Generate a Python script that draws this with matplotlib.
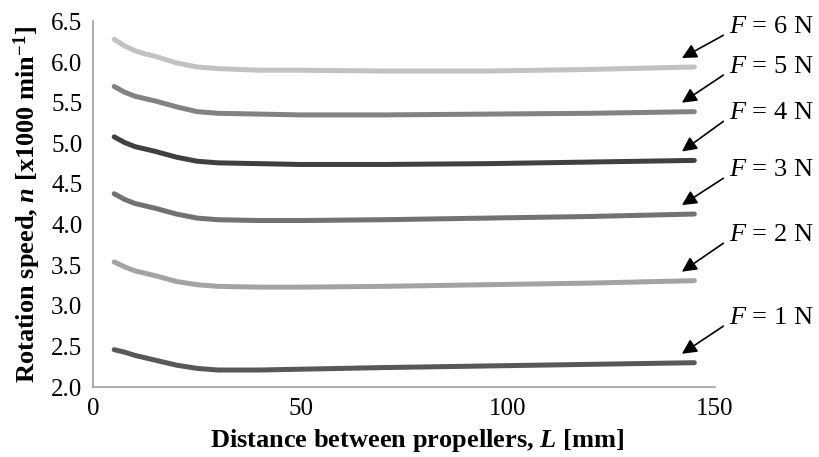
import matplotlib
matplotlib.use("Agg")
import matplotlib.pyplot as plt

plt.rcParams['font.family'] = ['Liberation Serif', 'DejaVu Serif']
plt.rcParams['mathtext.fontset'] = 'custom'
plt.rcParams['mathtext.rm'] = 'Liberation Serif'
plt.rcParams['mathtext.it'] = 'Liberation Serif:italic'
plt.rcParams['mathtext.bf'] = 'Liberation Serif:bold'
plt.rcParams['mathtext.bfit'] = 'Liberation Serif:italic:bold'

# Distance between propellers L [mm]
distance = [5, 7.5, 10, 12.5, 15, 20, 25, 30, 40, 50, 70, 95, 120, 145]

# Rotation speed n [x1000 min^-1] for each thrust force
speed_1N = [2.46, 2.43, 2.39, 2.36, 2.33, 2.27, 2.23, 2.21, 2.21, 2.22, 2.24, 2.26, 2.28, 2.30]
speed_2N = [3.54, 3.48, 3.43, 3.40, 3.37, 3.30, 3.26, 3.24, 3.23, 3.23, 3.24, 3.26, 3.28, 3.31]
speed_3N = [4.38, 4.31, 4.26, 4.23, 4.20, 4.13, 4.08, 4.06, 4.05, 4.05, 4.06, 4.08, 4.10, 4.13]
speed_4N = [5.08, 5.01, 4.96, 4.93, 4.90, 4.83, 4.78, 4.76, 4.75, 4.74, 4.74, 4.75, 4.77, 4.79]
speed_5N = [5.70, 5.63, 5.58, 5.55, 5.52, 5.45, 5.39, 5.37, 5.36, 5.35, 5.35, 5.36, 5.37, 5.39]
speed_6N = [6.28, 6.20, 6.14, 6.10, 6.07, 5.99, 5.94, 5.92, 5.90, 5.90, 5.89, 5.89, 5.91, 5.94]

forces = [1, 2, 3, 4, 5, 6]
series = [speed_1N, speed_2N, speed_3N, speed_4N, speed_5N, speed_6N]
colors = ['#585858', '#a3a3a3', '#727272', '#404040', '#828282', '#c2c2c2']
label_y = [2.85, 3.87, 4.67, 5.37, 5.94, 6.43]

x_ticks = [0, 50, 100, 150]
y_ticks = [2.0, 2.5, 3.0, 3.5, 4.0, 4.5, 5.0, 5.5, 6.0, 6.5]

fig = plt.figure(figsize=(8.2, 4.57), dpi=100)
ax = fig.add_axes([0.114, 0.153, 0.758, 0.800])

for f, vals, c, ly in zip(forces, series, colors, label_y):
    ax.plot(distance, vals, color=c, lw=3.6, solid_capstyle='round',
            solid_joinstyle='round')
    tip = (distance[-1] - 3, vals[-1] + 0.11)
    tail = (distance[-1] + 7, ly - 0.1)
    ax.annotate('', xy=tip, xytext=tail, annotation_clip=False,
                arrowprops=dict(arrowstyle='-|>', color='black', lw=1.2,
                                mutation_scale=22, shrinkA=0, shrinkB=0))
    ax.text(distance[-1] + 8.3, ly, r'$\mathit{F}$ = %d N' % f, fontsize=19,
            ha='left', va='center', clip_on=False)

ax.set_xlim(0, 150)
ax.set_ylim(2.0, 6.5)
ax.set_xticks(x_ticks)
ax.set_xticklabels([str(v) for v in x_ticks])
ax.set_yticks(y_ticks)
ax.set_yticklabels(['%.1f' % v for v in y_ticks])
ax.tick_params(length=0, labelsize=18, pad=8, colors='black')
for side in ('top', 'right'):
    ax.spines[side].set_visible(False)
for side in ('left', 'bottom'):
    ax.spines[side].set_color('#a0a0a0')
    ax.spines[side].set_linewidth(1.2)

ax.set_xlabel(r'Distance between propellers, $\mathbfit{L}$ [mm]',
              fontsize=19, fontweight='bold')
ax.xaxis.set_label_coords(0.52, -0.108)
ax.set_ylabel(r'Rotation speed, $\mathbfit{n}$ [x1000 min$^{\mathbf{-1}}$]',
              fontsize=19, fontweight='bold', labelpad=6)

fig.savefig('out.png', dpi=100)
